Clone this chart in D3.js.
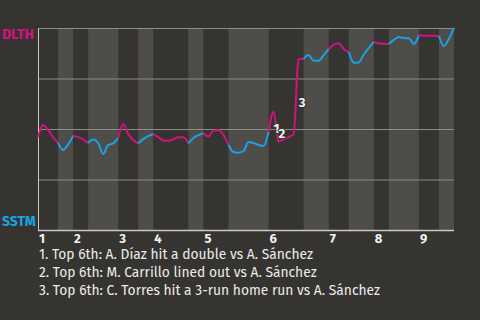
<!DOCTYPE html>
<html>
<head>
<meta charset="utf-8">
<script src="https://cdn.jsdelivr.net/npm/d3@7"></script>
<style>
  html, body { margin: 0; padding: 0; background: #363430; }
  svg { display: block; }
</style>
</head>
<body>
<script>
// chart data
var innings = ["1", "2", "3", "4", "5", "6", "7", "8", "9"];
// first event index of each half inning (top 1, bottom 1, top 2, ...)
var halfStarts = [0, 4, 7, 10, 16, 20, 23, 30, 33, 38, 46, 53, 58, 62, 67, 70, 76, 80];
var totalEvents = 83;
// DLTH win probability (%) after each event
var dlthWinPct = [
  46.0, 52.0, 49.5, 46.0, 43.1, 39.6, 42.3, 46.5, 46.0, 44.8,
  43.1, 44.8, 43.1, 37.6, 42.1, 42.9, 45.5, 52.5, 47.5, 44.6,
  42.9, 45.0, 46.5, 47.5, 46.0, 44.3, 44.2, 45.0, 45.9, 45.9,
  42.9, 45.5, 47.0, 47.9, 46.3, 49.3, 49.4, 47.0, 42.1, 38.6,
  38.3, 39.1, 43.6, 43.1, 42.1, 41.6, 48.5, 58.6, 43.7, 45.0,
  46.0, 47.5, 84.7, 84.7, 86.6, 83.8, 83.8, 86.6, 89.5, 91.6,
  92.4, 89.6, 88.1, 82.8, 82.9, 86.9, 90.1, 93.1, 92.4, 92.2,
  92.1, 94.1, 95.5, 95.0, 94.9, 92.1, 96.5, 96.2, 96.2, 96.2,
  96.0, 91.1, 94.8, 100.0
];
var yTicks = [0, 25, 50, 75, 100];
var teams = ["DLTH", "SSTM"];
var noteEvents = [47, 48, 52];
var notes = [
  "1. Top 6th: A. Díaz hit a double vs A. Sánchez",
  "2. Top 6th: M. Carrillo lined out vs A. Sánchez",
  "3. Top 6th: C. Torres hit a 3-run home run vs A. Sánchez"
];

var width = 480, height = 320;
var plotLeft = 38, plotRight = 454, plotTop = 28, plotBottom = 230;
var awayColor = "#d3127f", homeColor = "#18a3e6";
var font = "'Fira Sans', Roboto, 'Noto Sans', sans-serif";

var svg = d3.select("body").append("svg")
    .attr("width", width)
    .attr("height", height)
    .style("font-family", font);

var x = d3.scaleLinear().domain([0, totalEvents]).range([plotLeft, plotRight]);
var y = d3.scaleLinear().domain([0, 100]).range([plotBottom, plotTop]);

// half inning bands, bottom halves lighter
var halves = halfStarts.map(function(s, i) {
  return { start: s, end: i + 1 < halfStarts.length ? halfStarts[i + 1] : totalEvents, bottomHalf: i % 2 == 1 };
});

svg.append("g").selectAll("rect")
  .data(halves.filter(function(d) { return d.bottomHalf; }))
  .enter().append("rect")
    .attr("x", function(d) { return x(d.start); })
    .attr("y", plotTop)
    .attr("width", function(d) { return x(d.end) - x(d.start); })
    .attr("height", plotBottom - plotTop)
    .style("fill", "#4f4d4a");

// gridlines
svg.append("g").selectAll("line")
  .data(yTicks.slice(1))
  .enter().append("line")
    .attr("x1", plotLeft).attr("x2", plotRight)
    .attr("y1", function(d) { return y(d) + 0.5; })
    .attr("y2", function(d) { return y(d) + 0.5; })
    .style("stroke", "#8e8c89")
    .style("stroke-width", 1);

// axes
svg.append("line")
  .attr("x1", plotLeft + 0.5).attr("x2", plotLeft + 0.5)
  .attr("y1", plotTop).attr("y2", plotBottom)
  .style("stroke", "#c9c8c5").style("stroke-width", 1);
svg.append("line")
  .attr("x1", plotLeft).attr("x2", plotRight)
  .attr("y1", plotBottom + 0.5).attr("y2", plotBottom + 0.5)
  .style("stroke", "#c9c8c5").style("stroke-width", 1.5);

// win probability line, coloured by batting team
var line = d3.line()
    .x(function(d) { return x(d); })
    .y(function(d) { return y(dlthWinPct[d]); })
    .curve(d3.curveMonotoneX);

svg.append("g").selectAll("path")
  .data(halves)
  .enter().append("path")
    .attr("d", function(d) { return line(d3.range(d.start, d.end + 1)); })
    .style("fill", "none")
    .style("stroke", function(d) { return d.bottomHalf ? homeColor : awayColor; })
    .style("stroke-width", 2)
    .style("stroke-linejoin", "round");

// note markers
svg.append("g").selectAll("text")
  .data(noteEvents)
  .enter().append("text")
    .attr("x", function(d) { return x(d); })
    .attr("y", function(d) { return (y(dlthWinPct[d]) + y(dlthWinPct[d - 1])) / 2 + 11; })
    .text(function(d, i) { return i + 1; })
    .style("font-size", "13px")
    .style("font-weight", "bold")
    .style("fill", "#f2f2f2")
    .style("stroke", "#363430")
    .style("stroke-width", 2)
    .style("paint-order", "stroke");

// team labels
svg.append("text")
  .attr("x", 2).attr("y", y(100) + 11)
  .text(teams[0])
  .style("font-size", "14px").style("font-weight", "bold")
  .style("fill", awayColor);
svg.append("text")
  .attr("x", 2).attr("y", y(0) - 4)
  .text(teams[1])
  .style("font-size", "14px").style("font-weight", "bold")
  .style("fill", homeColor);

// inning labels at the start of each top half
svg.append("g").selectAll("text")
  .data(innings)
  .enter().append("text")
    .attr("x", function(d, i) { return x(halfStarts[i * 2]) + 1; })
    .attr("y", plotBottom + 13)
    .text(function(d) { return d; })
    .style("font-size", "13px")
    .style("font-weight", "bold")
    .style("fill", "#f2f2f2");

// notes
svg.append("g").selectAll("text")
  .data(notes)
  .enter().append("text")
    .attr("x", 39)
    .attr("y", function(d, i) { return 259 + i * 18; })
    .text(function(d) { return d; })
    .style("font-size", "13.8px")
    .style("fill", "#ececec");
</script>
</body>
</html>
